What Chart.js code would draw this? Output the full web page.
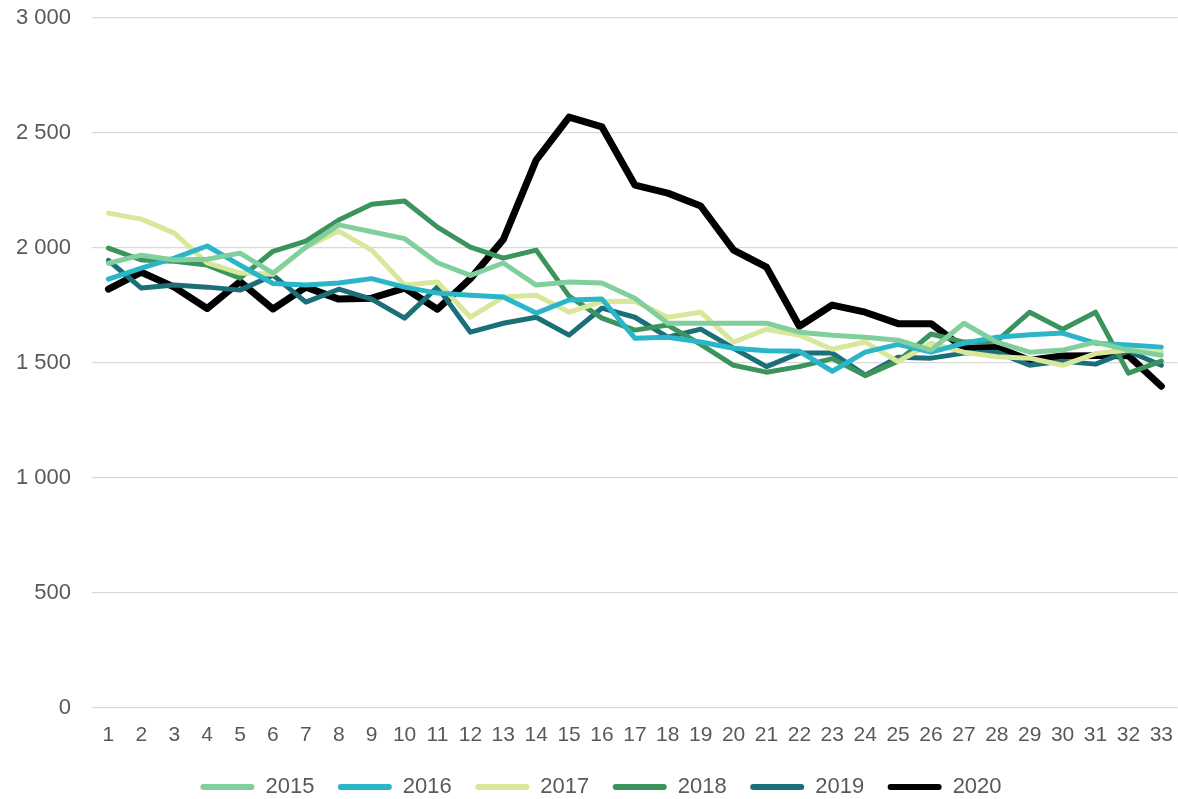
<!DOCTYPE html>
<html>
<head>
<meta charset="utf-8">
<script src="https://cdn.jsdelivr.net/npm/chart.js@4/dist/chart.umd.min.js"></script>
<style>
html,body{margin:0;padding:0;background:#fff;overflow:hidden;}
#wrap{width:1178px;height:799px;position:relative;overflow:hidden;}
</style>
</head>
<body>
<div id="wrap"><canvas id="c" width="1180" height="799"></canvas></div>
<script>
const weeks = Array.from({length:33},(_,i)=>String(i+1));
const yTicks = [0,500,1000,1500,2000,2500,3000];
const v2015 = [1933,1968,1947,1950,1977,1890,2003,2100,2070,2040,1935,1880,1934,1838,1851,1847,1781,1672,1672,1672,1672,1633,1620,1611,1598,1555,1672,1590,1546,1555,1590,1555,1533];
const v2016 = [1864,1912,1955,2008,1925,1845,1838,1847,1866,1829,1803,1794,1786,1716,1773,1777,1607,1611,1590,1563,1552,1550,1463,1546,1580,1546,1585,1611,1622,1629,1585,1577,1568];
const v2017 = [2151,2125,2064,1935,1890,1885,2003,2073,1990,1838,1851,1698,1786,1794,1720,1766,1768,1698,1720,1590,1646,1620,1559,1590,1505,1585,1546,1526,1520,1489,1540,1555,1546];
const v2018 = [1999,1947,1942,1925,1868,1985,2029,2121,2190,2204,2090,2003,1955,1990,1790,1694,1642,1664,1580,1489,1459,1483,1518,1444,1507,1625,1590,1594,1720,1646,1720,1455,1507];
const v2019 = [1945,1825,1838,1829,1816,1881,1764,1820,1777,1694,1829,1633,1672,1698,1620,1738,1698,1611,1646,1563,1483,1542,1542,1446,1524,1520,1542,1546,1489,1507,1494,1550,1489];
const v2020 = [1820,1894,1829,1736,1853,1734,1829,1777,1781,1825,1733,1866,2036,2382,2569,2526,2273,2238,2182,1990,1916,1659,1751,1720,1670,1670,1563,1566,1511,1529,1531,1531,1398];

const series = [
  {label:'2015', data:v2015, color:'#82cf9e', w:5},
  {label:'2016', data:v2016, color:'#2bb5c9', w:5},
  {label:'2017', data:v2017, color:'#d9e79b', w:5},
  {label:'2018', data:v2018, color:'#3c945d', w:5},
  {label:'2019', data:v2019, color:'#1b6f78', w:5},
  {label:'2020', data:v2020, color:'#000000', w:7}
];

const fontFam = '"Liberation Sans", Arial, sans-serif';
const legendShift = {
  id:'legendShift',
  afterLayout(chart){ if(chart.legend){ chart.legend.left += 5; chart.legend.right += 5; } }
};
new Chart(document.getElementById('c'), {
  type:'line',
  plugins:[legendShift],
  data:{
    labels:weeks,
    datasets:series.map(s=>({
      label:s.label, data:s.data, borderColor:s.color, backgroundColor:s.color,
      borderWidth:s.w, pointRadius:0, tension:0, borderJoinStyle:'round', borderCapStyle:'round'
    }))
  },
  options:{
    responsive:false, animation:false,
    layout:{padding:{top:5,right:0,left:12,bottom:-9}},
    plugins:{
      legend:{
        position:'bottom',
        labels:{
          color:'#595959', font:{family:fontFam,size:22},
          boxWidth:54, boxHeight:6, padding:23.5, useBorderRadius:true, borderRadius:3,
          generateLabels:(chart)=>chart.data.datasets.map((d,i)=>({
            text:d.label, fillStyle:d.borderColor, strokeStyle:d.borderColor, lineWidth:0,
            borderRadius:3, datasetIndex:i, fontColor:'#595959'
          }))
        }
      },
      tooltip:{enabled:false}
    },
    scales:{
      x:{
        offset:true,
        grid:{display:false},
        border:{display:false},
        afterFit:(ax)=>{ax.height = 45;},
        ticks:{color:'#595959', font:{family:fontFam,size:21}, padding:7, maxRotation:0, autoSkip:false}
      },
      y:{
        min:0, max:3000,
        afterBuildTicks:(ax)=>{ax.ticks = yTicks.map(v=>({value:v}));},
        afterFit:(ax)=>{ax.width = 80; ax.paddingTop = 18; ax.paddingBottom = 13;},
        grid:{color:'#d9d9d9', lineWidth:1.3, drawTicks:false},
        border:{display:false},
        ticks:{color:'#595959', font:{family:fontFam,size:22}, padding:21,
          callback:(v)=>String(v).replace(/\B(?=(\d{3})+(?!\d))/g,' ')}
      }
    }
  }
});
</script>
</body>
</html>
